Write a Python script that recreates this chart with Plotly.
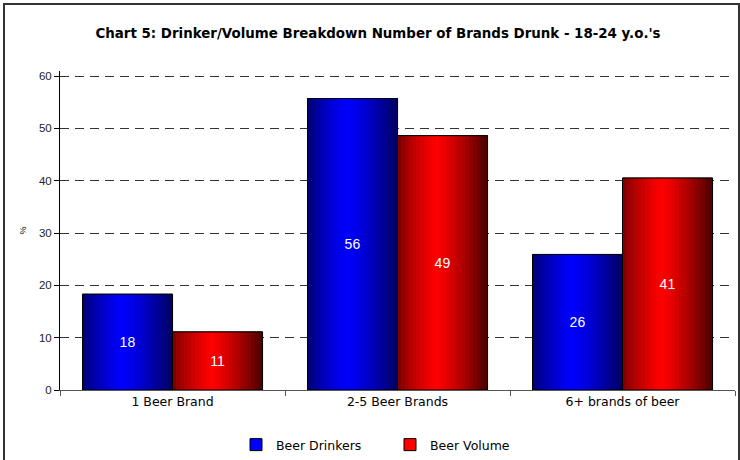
import plotly.graph_objects as go

categories = ["1 Beer Brand", "2-5 Beer Brands", "6+ brands of beer"]
beer_drinkers = [18.3, 55.7, 25.9]
beer_volume = [11.1, 48.6, 40.5]
series_names = ["Beer Drinkers", "Beer Volume"]
y_ticks = [0, 10, 20, 30, 40, 50, 60]

W, H = 740, 460
ML, MR, MT, MB = 60, 5, 71, 70
PW, PH = W - ML - MR, H - MT - MB
Y_TOP = PH / (314 / 60)  # keep 60 at the reference gridline position

BAR_W = 0.4
N = 24


def lerp(c1, c2, t):
    return tuple(int(round(a + (b - a) * t)) for a, b in zip(c1, c2))


def grad_color(dark_l, bright, dark_r, t, peak=0.42):
    if t <= peak:
        c = lerp(dark_l, bright, (t / peak) ** 0.7)
    else:
        c = lerp(bright, dark_r, ((t - peak) / (1 - peak)) ** 1.3)
    return "rgb(%d,%d,%d)" % c


specs = [
    (series_names[0], beer_drinkers, -BAR_W, (0, 0, 100), (0, 0, 255), (0, 0, 95), "#0000FF"),
    (series_names[1], beer_volume, 0.0, (110, 0, 0), (255, 0, 0), (70, 0, 0), "#FF0000"),
]

fig = go.Figure()
font_sans = "DejaVu Sans"

for name, vals, off, dl, br, dr, base in specs:
    fig.add_trace(go.Bar(
        x=categories, y=vals, name=name, width=BAR_W, offset=off,
        marker=dict(color=base, line=dict(color="black", width=1)),
        hoverinfo="skip", showlegend=True,
    ))
    sw = BAR_W / N
    for i in range(N):
        t = (i + 0.5) / N
        fig.add_trace(go.Bar(
            x=categories, y=vals, width=sw * 1.15, offset=off + i * sw,
            marker=dict(color=grad_color(dl, br, dr, t), line=dict(width=0)),
            showlegend=False, hoverinfo="skip",
        ))

for name, vals, off, dl, br, dr, base in specs:
    fig.add_trace(go.Bar(
        x=categories, y=vals, width=BAR_W, offset=off,
        marker=dict(color="rgba(0,0,0,0)", line=dict(color="black", width=1)),
        texttemplate="%{y:.0f}", textposition="inside", insidetextanchor="middle",
        textangle=0,
        textfont=dict(family="Liberation Sans, Arial", size=14, color="white"),
        showlegend=False, hoverinfo="skip",
    ))

fig.update_layout(
    width=W, height=H,
    barmode="overlay",
    margin=dict(l=ML, r=MR, t=MT, b=MB, autoexpand=False),
    paper_bgcolor="white", plot_bgcolor="white",
    title=dict(
        text="<b>Chart 5: Drinker/Volume Breakdown Number of Brands Drunk - 18-24 y.o.'s</b>",
        x=378 / W, xanchor="center", y=1 - 33 / H, yanchor="middle",
        font=dict(family=font_sans, size=13.4, color="black"),
    ),
    legend=dict(
        orientation="h", x=(236 - ML) / PW, xanchor="left",
        y=(H - MB - 445) / PH, yanchor="middle",
        font=dict(family=font_sans, size=12.5, color="black"),
        entrywidth=109, entrywidthmode="pixels", traceorder="normal",
        itemwidth=30,
    ),
    showlegend=True,
)

fig.update_yaxes(
    range=[0, Y_TOP], tickvals=y_ticks, ticks="outside", ticklen=5, tickcolor="black",
    showline=True, linecolor="black", linewidth=1,
    showgrid=True, gridcolor="#333333", gridwidth=1, griddash="9px,6px",
    zeroline=False, automargin=False,
    tickfont=dict(family="Liberation Sans, Arial", size=11.5, color="#222222"),
    title=dict(text="%", font=dict(family="Liberation Sans, Arial", size=9, color="black"), standoff=10),
)
fig.update_xaxes(
    type="category", range=[-0.5, 2.5], automargin=False,
    tickson="boundaries", ticks="outside", ticklen=5, tickcolor="#555555",
    showline=True, linecolor="#555555", linewidth=1,
    tickfont=dict(family=font_sans, size=12.5, color="black"),
    showgrid=False,
)

fig.add_shape(
    type="rect", xref="paper", yref="paper",
    x0=(4 - ML) / PW, x1=(739 - ML) / PW,
    y0=(H - MB - 470) / PH, y1=(H - MB - 4) / PH,
    line=dict(color="#333333", width=2), fillcolor="rgba(0,0,0,0)", layer="below",
)

fig.write_html(
    "out.html",
    config={"displayModeBar": False},
    post_script="document.body.style.margin='0';document.body.style.padding='0';",
)
